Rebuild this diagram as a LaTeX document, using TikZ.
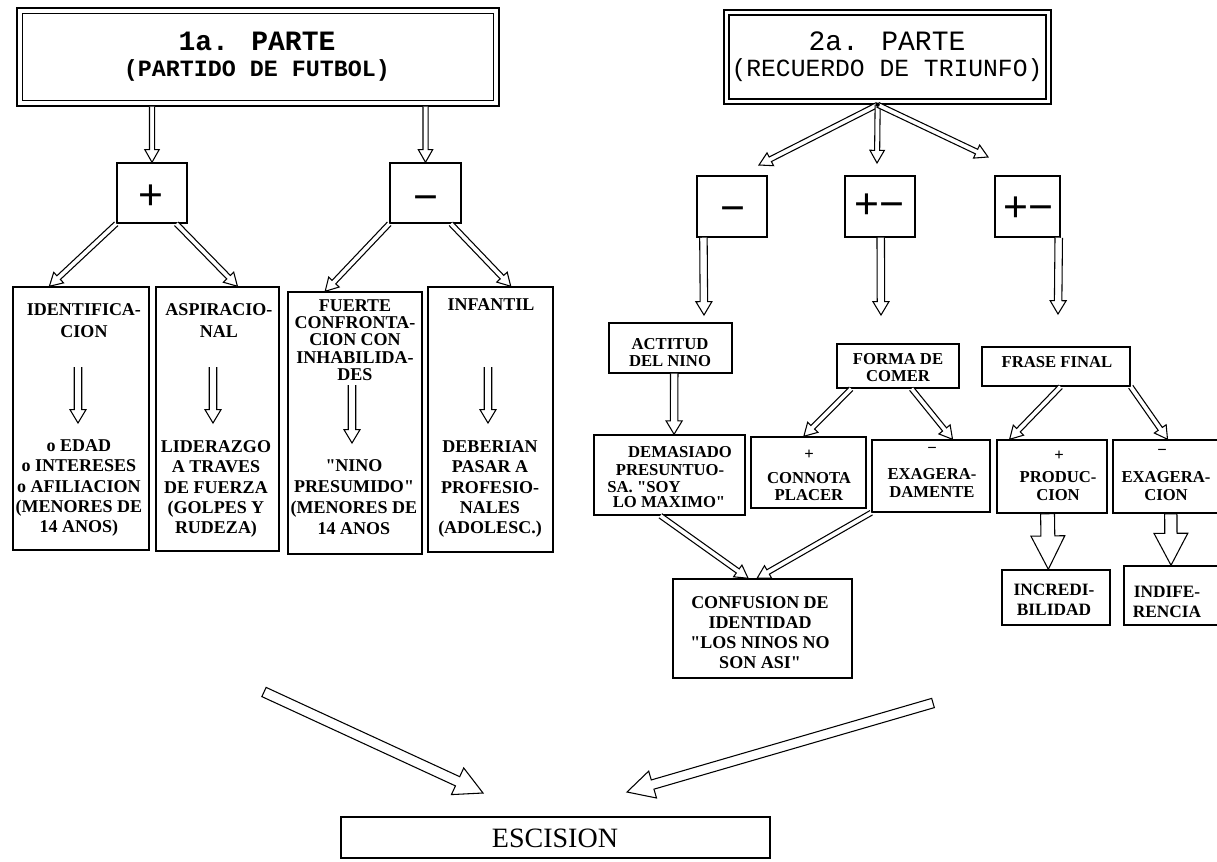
\documentclass[tikz,border=0pt]{standalone}
\usepackage{fontspec}
\setmainfont{Liberation Serif}[Ligatures=TeXOff]
\newfontfamily\typefont{Liberation Mono}
\newfontfamily\signfont{Liberation Sans}
\usetikzlibrary{calc,fit}

\tikzset{
  rbox/.style={draw, line width=1.1pt, inner sep=0pt},
  arr/.style={draw, line width=0.8pt, fill=white, line join=miter},
  lbl/.style={font=\bfseries\fontsize{13.5}{15.2}\selectfont, align=center, inner sep=0pt},
  rlbl/.style={font=\bfseries\fontsize{12.5}{13}\selectfont, align=center, inner sep=0pt},
  sign/.style={font=\signfont\fontsize{32}{32}\selectfont, inner sep=0pt, anchor=base},
  ttlA/.style={font=\typefont\bfseries\fontsize{21}{21}\selectfont, inner sep=0pt},
  ttlB/.style={font=\typefont\bfseries\fontsize{17.5}{17.5}\selectfont, inner sep=0pt},
  ttlC/.style={font=\typefont\fontsize{21}{21}\selectfont, inner sep=0pt},
  ttlD/.style={font=\typefont\fontsize{18.5}{18.5}\selectfont, inner sep=0pt},
}

% hollow arrow with open tail: [options]{from}{to}{shaft half width}{head half width}{head length}
\newcommand\harrow[6][]{%
  \coordinate (hA) at #2;
  \coordinate (hB) at #3;
  \coordinate (hH) at ($(hB)!#6!(hA)$);
  \path[arr,#1] ($(hA)!#4!90:(hB)$) -- ($(hH)!#4!90:(hB)$) -- ($(hH)!#5!90:(hB)$) -- (hB)
     -- ($(hH)!#5!-90:(hB)$) -- ($(hH)!#4!-90:(hB)$) -- ($(hA)!#4!-90:(hB)$);}
% hollow block arrow with closed tail
\newcommand\blockarr[6][]{%
  \coordinate (hA) at #2;
  \coordinate (hB) at #3;
  \coordinate (hH) at ($(hB)!#6!(hA)$);
  \path[arr,#1] ($(hA)!#4!90:(hB)$) -- ($(hH)!#4!90:(hB)$) -- ($(hH)!#5!90:(hB)$) -- (hB)
     -- ($(hH)!#5!-90:(hB)$) -- ($(hH)!#4!-90:(hB)$) -- ($(hA)!#4!-90:(hB)$) -- cycle;}
\newcommand\thinarrow[2]{\harrow{#1}{#2}{1.9pt}{5.4pt}{9.5pt}}
\newcommand\midarrow[2]{\harrow{#1}{#2}{2.8pt}{6pt}{10pt}}

\begin{document}
\begin{tikzpicture}[x=0.75pt,y=-0.75pt]
\useasboundingbox (0,0) rectangle (1217,861);
\fill[white] (0,0) rectangle (1217,861);

% ---------- first part ----------
\node[rbox, fit={(17,8)(499,106)}] (t1) {};
\draw[line width=1.1pt] ([shift={(4.5pt,-4.5pt)}]t1.north west) rectangle ([shift={(-4.5pt,4.5pt)}]t1.south east);
\node[ttlA] (t1a) at (257,41) {1a. PARTE};
\node[ttlB] (t1b) at (257,70) {(PARTIDO DE FUTBOL)};

\node[rbox, fit={(117,163)(187,223)}] (pl) {};
\node[rbox, fit={(390,163)(461,223)}] (mi) {};
\node[sign] (pls) at (151,209.5) {+};
\node[sign] (mis) at (426,211) {−};

\node[rbox, fit={(13,287)(149,550)}] (b1) {};
\node[rbox, fit={(156,287)(279,551)}] (b2) {};
\node[rbox, fit={(288,292)(422,554)}] (b3) {};
\node[rbox, fit={(428,287)(553,552)}] (b4) {};

\node[lbl, font=\bfseries\fontsize{13.5}{16.5}\selectfont] (b1t) at (84,321) {IDENTIFICA-\\CION};
\node[lbl] (b1l) at (79,488) {o EDAD\\o INTERESES\\o AFILIACION\\(MENORES DE\\14 ANOS)};
\node[lbl, font=\bfseries\fontsize{13.5}{16.5}\selectfont] (b2t) at (219,321) {ASPIRACIO-\\NAL};
\node[lbl] (b2l) at (216,489) {LIDERAZGO\\A TRAVES\\DE FUERZA\\(GOLPES Y\\RUDEZA)};
\node[lbl, font=\bfseries\fontsize{13.5}{13}\selectfont] (b3t) at (355,340) {FUERTE\\CONFRONTA-\\CION CON\\INHABILIDA-\\DES};
\node[lbl, font=\bfseries\fontsize{13.5}{15.6}\selectfont] (b3l) at (354,497) {"NINO\\PRESUMIDO"\\(MENORES DE\\14 ANOS};
\node[lbl] (b4t) at (491,305) {INFANTIL};
\node[lbl] (b4l) at (490,489) {DEBERIAN\\PASAR A\\PROFESIO-\\NALES\\(ADOLESC.)};

\thinarrow{(t1.south -| pl.north)}{(pl.north)}
\thinarrow{(t1.south -| mi.north)}{(mi.north)}
\thinarrow{(pl.south west)}{($(b1.north west)!0.27!(b1.north east)$)}
\thinarrow{($(pl.south west)!0.84!(pl.south east)$)}{($(b2.north west)!0.66!(b2.north east)$)}
\thinarrow{(mi.south west)}{($(b3.north west)!0.28!(b3.north east)$)}
\thinarrow{($(mi.south west)!0.85!(mi.south east)$)}{($(b4.north west)!0.66!(b4.north east)$)}

\coordinate (b1u) at (78,367);  \coordinate (b1d) at (78,423);
\coordinate (b2u) at (213,367); \coordinate (b2d) at (213,423);
\coordinate (b3u) at (352,385); \coordinate (b3d) at (352,443);
\coordinate (b4u) at (488,367); \coordinate (b4d) at (488,423);
\midarrow{(b1u)}{(b1d)}
\midarrow{(b2u)}{(b2d)}
\midarrow{(b3u)}{(b3d)}
\midarrow{(b4u)}{(b4d)}

% ---------- second part ----------
\node[rbox, fit={(724,10)(1051,104)}] (t2) {};
\draw[line width=1.1pt] ([shift={(4.2pt,-4.2pt)}]t2.north west) rectangle ([shift={(-4.2pt,4.2pt)}]t2.south east);
\node[ttlC] (t2a) at (887,41) {2a. PARTE};
\node[ttlD] (t2b) at (887,70) {(RECUERDO DE TRIUNFO)};

\node[rbox, fit={(697,176)(767,237)}] (s1) {};
\node[rbox, fit={(845,176)(915,237)}] (s2) {};
\node[rbox, fit={(995,176)(1060,237)}] (s3) {};
\node[sign] (s1s) at (733,222) {−};
\node[sign] (s2s) at (879,218.5) {+−};
\node[sign] (s3s) at (1028,221.5) {+−};

\coordinate (fo) at ($(t2.south west)!0.47!(t2.south east)$);
\coordinate (fl) at (759,165);
\coordinate (fm) at (877,163);
\coordinate (fr) at (988,157);
\thinarrow{(fo)}{(fl)}
\thinarrow{(fo)}{(fm)}
\thinarrow{(fo)}{(fr)}
\fill (fo) circle (1.6pt);

\node[rbox, fit={(609,323)(732,373)}] (c1) {};
\node[rbox, fit={(837,344)(959,388)}] (c2) {};
\node[rbox, fit={(982,347)(1130,386)}] (c3) {};
\node[rlbl, font=\bfseries\fontsize{12.5}{12.75}\selectfont] (c1t) at (670,353) {ACTITUD\\DEL NINO};
\node[rlbl, font=\bfseries\fontsize{12.5}{12.75}\selectfont] (c2t) at (898,368) {FORMA DE\\COMER};
\node[rlbl] (c3t) at (1057,362) {FRASE FINAL};

\coordinate (dl1) at (704,315);
\coordinate (dl2) at (881,315);
\coordinate (dl3) at (1058,314);
\midarrow{($(s1.south west)!0.1!(s1.south east)$)}{(dl1)}
\midarrow{($(s2.south west)!0.51!(s2.south east)$)}{(dl2)}
\midarrow{($(s3.south west)!0.97!(s3.south east)$)}{(dl3)}

\node[rbox, fit={(594,435)(745,515)}] (d1) {};
\node[rbox, fit={(751,437)(866,508)}] (e1) {};
\node[rbox, fit={(872,440)(990,512)}] (e2) {};
\node[rbox, fit={(997,440)(1107,513)}] (f1) {};
\node[rbox, fit={(1113,440)(1222,513)}] (f2) {};

\node[rlbl] (d1a) at (680,452) {DEMASIADO};
\node[rlbl] (d1b) at (670,470) {PRESUNTUO-};
\node[rlbl] (d1c) at (644,487) {SA. "SOY};
\node[rlbl] (d1d) at (669,502) {LO MAXIMO"};
\node[rlbl] (e1s) at (809,455) {+};
\node[rlbl, font=\bfseries\fontsize{12.5}{12.75}\selectfont] (e1t) at (809,487) {CONNOTA\\PLACER};
\node[rlbl] (e2s) at (932,450) {−};
\node[rlbl, font=\bfseries\fontsize{12.5}{14.2}\selectfont] (e2t) at (932,483) {EXAGERA-\\DAMENTE};
\node[rlbl] (f1s) at (1059,456) {+};
\node[rlbl, font=\bfseries\fontsize{12.5}{13.5}\selectfont] (f1t) at (1058,486) {PRODUC-\\CION};
\node[rlbl] (f2s) at (1162,452) {−};
\node[rlbl, font=\bfseries\fontsize{12.5}{13.5}\selectfont] (f2t) at (1166,486) {EXAGERA-\\CION};

\midarrow{($(c1.south west)!0.53!(c1.south east)$)}{($(d1.north west)!0.53!(d1.north east)$)}
\thinarrow{($(c2.south west)!0.12!(c2.south east)$)}{($(e1.north west)!0.46!(e1.north east)$)}
\thinarrow{($(c2.south west)!0.61!(c2.south east)$)}{($(e2.north west)!0.68!(e2.north east)$)}
\thinarrow{($(c3.south west)!0.53!(c3.south east)$)}{($(f1.north west)!0.12!(f1.north east)$)}
\thinarrow{(c3.south east)}{($(f2.north west)!0.5!(f2.north east)$)}

\node[rbox, fit={(1002,570)(1110,625)}] (g1) {};
\node[rbox, fit={(1124,566)(1222,625)}] (g2) {};
\node[rlbl, font=\bfseries\fontsize{13}{15}\selectfont] (g1t) at (1054,600) {INCREDI-\\BILIDAD};
\node[rlbl, font=\bfseries\fontsize{13}{15}\selectfont] (g2t) at (1167,602) {INDIFE-\\RENCIA};
\blockarr{($(f1.south west)!0.46!(f1.south east)$)}{($(g1.north west)!0.43!(g1.north east)$)}{5.2pt}{12.7pt}{25pt}
\blockarr{($(f2.south west)!0.53!(f2.south east)$)}{($(g2.north west)!0.48!(g2.north east)$)}{4.6pt}{12.7pt}{24pt}

\node[rbox, fit={(673,579)(852,678)}] (h) {};
\node[lbl, font=\bfseries\fontsize{13.5}{15}\selectfont] (ht) at (760,633) {CONFUSION DE\\IDENTIDAD\\"LOS NINOS NO\\SON ASI"};
\thinarrow{($(d1.south west)!0.44!(d1.south east)$)}{($(h.north west)!0.42!(h.north east)$)}
\thinarrow{(e2.south west)}{($(h.north west)!0.47!(h.north east)$)}

% ---------- conclusion ----------
\node[rbox, fit={(341,817)(770,858)}] (es) {};
\node[font=\fontsize{21}{21}\selectfont, inner sep=0pt] (est) at (555,838) {ESCISION};
\coordinate (bl0) at (264,692); \coordinate (bl1) at (483,793);
\coordinate (br0) at (933,703); \coordinate (br1) at (627,792);
\blockarr{(bl0)}{(bl1)}{3.8pt}{11pt}{21pt}
\blockarr{(br0)}{(br1)}{3.6pt}{10.5pt}{20pt}
\end{tikzpicture}
\end{document}
